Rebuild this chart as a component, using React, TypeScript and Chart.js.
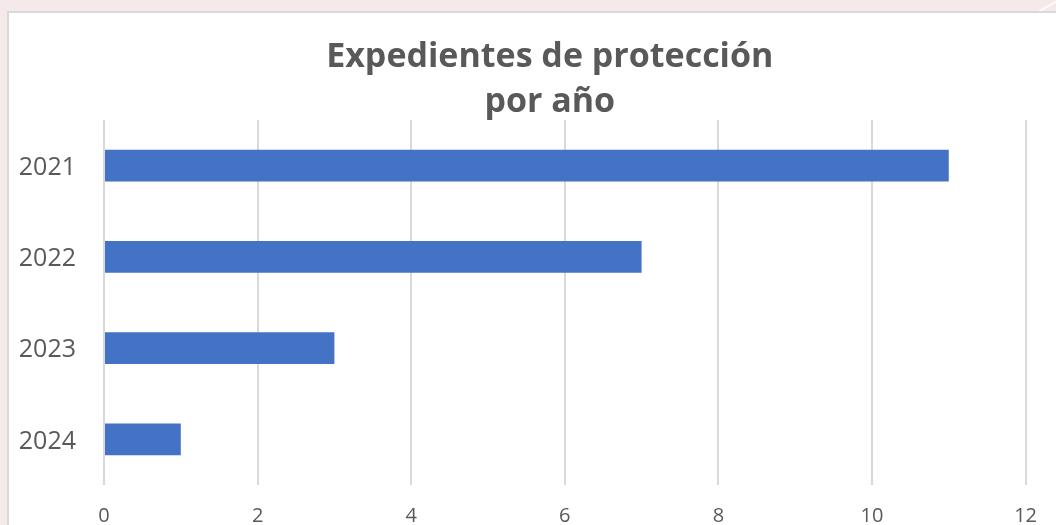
import React, { useEffect, useRef } from "react";
import { Chart, registerables } from "chart.js";

Chart.register(...registerables);

const categories = ["2021", "2022", "2023", "2024"];
const values = [11, 7, 3, 1];
const titleLines = ["Expedientes de protección", "por año"];
const xMax = 12;
const xStep = 2;

const TEXT = "#595959";
const FONT = "'Open Sans', 'Liberation Sans', sans-serif";

const TITLE_SIZE = 34;
const TITLE_LINE = 44.9;

// Title drawn by Chart.js canvas, centred a little left of the plot centre (as in the source)
const titlePlugin = {
  id: "offsetTitle",
  afterDraw(chart: any) {
    const { ctx, chartArea } = chart;
    ctx.save();
    ctx.font = `bold ${TITLE_SIZE}px ${FONT}`;
    ctx.fillStyle = TEXT;
    ctx.textAlign = "center";
    ctx.textBaseline = "middle";
    const cx = (chartArea.left + chartArea.right) / 2 - 15;
    const y0 = chartArea.top - 62.6;
    titleLines.forEach((line, i) => {
      ctx.fillText(line, cx, y0 + i * TITLE_LINE);
    });
    ctx.restore();
  },
};

export default function App() {
  const ref = useRef<HTMLCanvasElement | null>(null);

  useEffect(() => {
    if (!ref.current) return;
    const chart = new Chart(ref.current, {
      type: "bar",
      data: {
        labels: categories,
        datasets: [
          {
            data: values,
            backgroundColor: "#4472c4",
            borderWidth: 0,
            categoryPercentage: 1,
            barPercentage: 0.35,
          },
        ],
      },
      options: {
        indexAxis: "y",
        responsive: false,
        animation: false,
        devicePixelRatio: 1,
        layout: { padding: { left: 0, right: 28, top: 120, bottom: 0 } },
        plugins: {
          legend: { display: false },
          tooltip: { enabled: false },
          title: { display: false },
        },
        scales: {
          x: {
            min: 0,
            max: xMax,
            ticks: {
              stepSize: xStep,
              color: TEXT,
              font: { family: FONT, size: 20 },
              padding: 19,
            },
            grid: { color: "#d9d9d9", lineWidth: 2, drawTicks: false },
            border: { display: false },
            afterFit: (s: any) => {
              s.height = 60;
            },
          },
          y: {
            ticks: {
              color: TEXT,
              font: { family: FONT, size: 25 },
              padding: 28,
              labelOffset: 2,
            },
            grid: { display: false, drawTicks: false },
            border: { display: false },
            afterFit: (s: any) => {
              s.width = 104;
            },
          },
        },
      },
      plugins: [titlePlugin],
    });
    return () => chart.destroy();
  }, []);

  return (
    <div
      style={{
        position: "fixed",
        left: 0,
        top: 0,
        width: 1056,
        height: 525,
        overflow: "hidden",
        background: "#f5e9e9",
      }}
    >
      <div
        style={{
          position: "absolute",
          left: 1020,
          top: 4,
          width: 60,
          height: 2,
          background: "rgba(255,255,255,0.85)",
          transform: "rotate(-30deg)",
        }}
      />
      <div
        style={{
          position: "absolute",
          left: 7,
          top: 11,
          width: 1100,
          height: 600,
          background: "#ffffff",
          border: "2px solid #d9d9d9",
          boxSizing: "border-box",
        }}
      />
      <canvas
        ref={ref}
        width={1056}
        height={545}
        style={{ position: "absolute", left: 0, top: 0, width: 1056, height: 545 }}
      />
    </div>
  );
}
